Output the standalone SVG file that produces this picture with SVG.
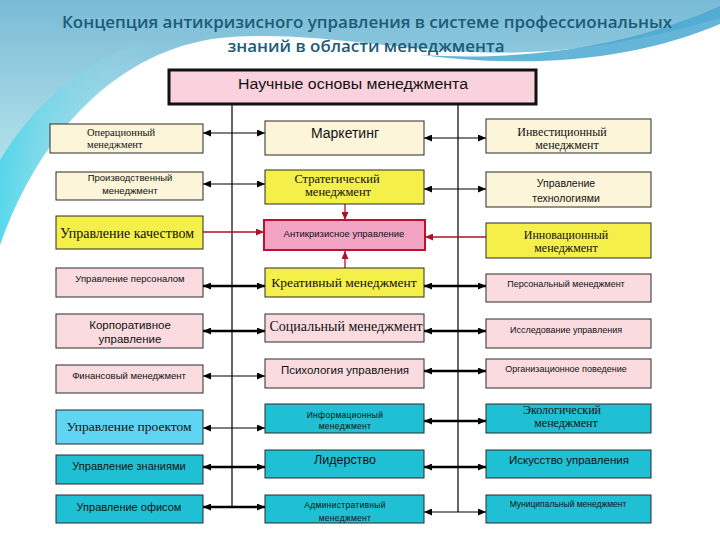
<svg xmlns="http://www.w3.org/2000/svg" width="720" height="540" viewBox="0 0 720 540">
<defs>
<linearGradient id="sky" x1="0" y1="0" x2="0" y2="1">
<stop offset="0" stop-color="#79BBD6"/>
<stop offset="0.5" stop-color="#A6D9E6"/>
<stop offset="1" stop-color="#C8EEF4"/>
</linearGradient>
<linearGradient id="leftc" x1="0" y1="0" x2="1" y2="0">
<stop offset="0" stop-color="#3FD3EA"/>
<stop offset="1" stop-color="#A9E3EE" stop-opacity="0"/>
</linearGradient>
<marker id="ab" viewBox="0 0 8 7" refX="8" refY="3.5" markerWidth="8" markerHeight="7" markerUnits="userSpaceOnUse" orient="auto-start-reverse">
<path d="M0,0 L8,3.5 L0,7 Z" fill="#000"/>
</marker>
<marker id="ar" viewBox="0 0 8 7" refX="8" refY="3.5" markerWidth="8" markerHeight="7" markerUnits="userSpaceOnUse" orient="auto-start-reverse">
<path d="M0,0 L8,3.5 L0,7 Z" fill="#B0102A"/>
</marker>
</defs>
<style>
.box{stroke:#2a2a2a;stroke-width:1}
.cream{fill:#FCF5DA}
.yel{fill:#F4F049}
.pink{fill:#FADCE0}
.lblue{fill:#5FD4F3}
.teal{fill:#1FC0D3}
.s{font-family:"Liberation Sans",Arial,sans-serif;fill:#111;text-anchor:middle}
.r{font-family:"Liberation Serif","DejaVu Serif","Times New Roman",serif;fill:#111;text-anchor:middle}
.ln{stroke:#000;fill:none}
.t{stroke-width:1.2}
.k{stroke-width:2.4}
.red{stroke:#B0102A;stroke-width:1.3;fill:none}
.title{font-family:"Open Sans","Noto Sans",sans-serif;font-weight:600;font-size:17px;fill:#1B5B78;text-anchor:middle}
</style>
<rect width="720" height="540" fill="#FFFFFF"/>
<path d="M0,0 H720 V18 C640,42 560,56 470,52 C380,48 300,30 220,38 C120,50 40,130 0,245 Z" fill="url(#sky)"/>
<path d="M0,245 C30,160 80,95 150,60 L150,40 C80,60 30,110 0,160 Z" fill="url(#leftc)" opacity="0.8"/>
<path d="M420,55 C540,62 640,42 720,6 V24 C640,58 540,70 420,55 Z" fill="#4AA8D2" opacity="0.85"/>
<text class="title" x="367" y="28" textLength="610" lengthAdjust="spacingAndGlyphs">Концепция антикризисного управления в системе профессиональных</text>
<text class="title" x="366" y="52" textLength="277" lengthAdjust="spacingAndGlyphs">знаний в области менеджмента</text>

<g id="connectors">
<line class="ln t" x1="232" y1="105" x2="232" y2="507"/>
<line class="ln t" x1="458" y1="105" x2="458" y2="512"/>
<line class="ln t" x1="203" y1="133" x2="265" y2="133" marker-start="url(#ab)" marker-end="url(#ab)"/>
<line class="ln t" x1="203" y1="184" x2="265" y2="184" marker-start="url(#ab)" marker-end="url(#ab)"/>
<line class="red" x1="203" y1="232" x2="264" y2="232" marker-end="url(#ar)"/>
<line class="ln k" x1="203" y1="286" x2="265" y2="286" marker-start="url(#ab)" marker-end="url(#ab)"/>
<line class="ln k" x1="203" y1="331" x2="265" y2="331" marker-start="url(#ab)" marker-end="url(#ab)"/>
<line class="ln t" x1="203" y1="376" x2="265" y2="376" marker-start="url(#ab)" marker-end="url(#ab)"/>
<line class="ln t" x1="203" y1="428" x2="265" y2="428" marker-start="url(#ab)" marker-end="url(#ab)"/>
<line class="ln k" x1="203" y1="467" x2="265" y2="467" marker-start="url(#ab)" marker-end="url(#ab)"/>
<line class="ln k" x1="203" y1="507" x2="265" y2="507" marker-start="url(#ab)" marker-end="url(#ab)"/>
<line class="ln t" x1="424" y1="138" x2="486" y2="138" marker-start="url(#ab)" marker-end="url(#ab)"/>
<line class="ln t" x1="424" y1="189" x2="486" y2="189" marker-start="url(#ab)" marker-end="url(#ab)"/>
<line class="red" x1="486" y1="237" x2="425" y2="237" marker-end="url(#ar)"/>
<line class="ln k" x1="424" y1="286" x2="486" y2="286" marker-start="url(#ab)" marker-end="url(#ab)"/>
<line class="ln k" x1="424" y1="331" x2="486" y2="331" marker-start="url(#ab)" marker-end="url(#ab)"/>
<line class="ln k" x1="424" y1="371" x2="486" y2="371" marker-start="url(#ab)" marker-end="url(#ab)"/>
<line class="ln k" x1="424" y1="421" x2="486" y2="421" marker-start="url(#ab)" marker-end="url(#ab)"/>
<line class="ln k" x1="424" y1="467" x2="486" y2="467" marker-start="url(#ab)" marker-end="url(#ab)"/>
<line class="ln t" x1="424" y1="512" x2="486" y2="512" marker-start="url(#ab)" marker-end="url(#ab)"/>
<line class="red" x1="345" y1="204" x2="345" y2="220" stroke-width="2" marker-end="url(#ar)"/>
<line class="red" x1="345" y1="268" x2="345" y2="251" stroke-width="2" marker-end="url(#ar)"/>
</g>

<g id="top">
<rect x="169" y="70" width="367" height="34" fill="#FAD2DE" stroke="#111" stroke-width="3"/>
<text class="s" x="353" y="89" font-size="14" textLength="230" lengthAdjust="spacingAndGlyphs">Научные основы менеджмента</text>
</g>

<g id="l1"><rect class="box cream" x="50" y="124" width="153" height="29"/>
<text class="r" x="87" y="136" font-size="10.5" style="text-anchor:start">Операционный</text>
<text class="r" x="87" y="148" font-size="10.5" style="text-anchor:start">менеджмент</text></g>
<g id="l2"><rect class="box cream" x="56" y="172" width="147" height="28"/>
<text class="s" x="130" y="181" font-size="9.5">Производственный</text>
<text class="s" x="130" y="194" font-size="9.5">менеджмент</text></g>
<g id="l3"><rect class="box yel" x="56" y="216" width="147" height="33"/>
<text class="r" x="127" y="238" font-size="14">Управление качеством</text></g>
<g id="l4"><rect class="box pink" x="56" y="268" width="147" height="29"/>
<text class="s" x="130" y="282" font-size="9.5">Управление персоналом</text></g>
<g id="l5"><rect class="box pink" x="56" y="314" width="147" height="34"/>
<text class="s" x="130" y="329" font-size="11.5">Корпоративное</text>
<text class="s" x="130" y="343" font-size="11.5">управление</text></g>
<g id="l6"><rect class="box pink" x="56" y="365" width="147" height="28"/>
<text class="s" x="129" y="379" font-size="9.5">Финансовый менеджмент</text></g>
<g id="l7"><rect class="box lblue" x="56" y="410" width="147" height="34"/>
<text class="r" x="129" y="431" font-size="13.5">Управление проектом</text></g>
<g id="l8"><rect class="box teal" x="56" y="455" width="147" height="29"/>
<text class="s" x="129" y="470" font-size="11">Управление знаниями</text></g>
<g id="l9"><rect class="box teal" x="56" y="495" width="147" height="28"/>
<text class="s" x="129" y="511" font-size="11">Управление офисом</text></g>

<g id="m1"><rect class="box cream" x="265" y="121" width="159" height="34"/>
<text class="s" x="345" y="138" font-size="14">Маркетинг</text></g>
<g id="m2"><rect class="box yel" x="265" y="170" width="159" height="34"/>
<text class="r" x="337" y="183" font-size="12.5">Стратегический</text>
<text class="r" x="338" y="196" font-size="12.5">менеджмент</text></g>
<g id="m3"><rect x="264" y="220" width="161" height="30" fill="#F3A3C4" stroke="#C0102E" stroke-width="2"/>
<text class="s" x="344" y="237" font-size="9.5">Антикризисное управление</text></g>
<g id="m4"><rect class="box yel" x="265" y="268" width="159" height="29"/>
<text class="r" x="344" y="287" font-size="13.5">Креативный менеджмент</text></g>
<g id="m5"><rect class="box pink" x="265" y="314" width="159" height="28"/>
<text class="r" x="346" y="331" font-size="14">Социальный менеджмент</text></g>
<g id="m6"><rect class="box pink" x="265" y="359" width="159" height="29"/>
<text class="s" x="345" y="374" font-size="11.5">Психология управления</text></g>
<g id="m7"><rect class="box teal" x="265" y="404" width="159" height="29"/>
<text class="s" x="345" y="418" font-size="8.5" letter-spacing="0.3">Информационный</text>
<text class="s" x="345" y="429" font-size="8.5" letter-spacing="0.3">менеджмент</text></g>
<g id="m8"><rect class="box teal" x="265" y="450" width="159" height="28"/>
<text class="s" x="345" y="464" font-size="12.5">Лидерство</text></g>
<g id="m9"><rect class="box teal" x="265" y="495" width="159" height="28"/>
<text class="s" x="345" y="508" font-size="8.5" letter-spacing="0.3">Административный</text>
<text class="s" x="345" y="521" font-size="8.5" letter-spacing="0.3">менеджмент</text></g>

<g id="r1"><rect class="box cream" x="486" y="119" width="165" height="34"/>
<text class="r" x="562" y="136" font-size="12">Инвестиционный</text>
<text class="r" x="567" y="149" font-size="12">менеджмент</text></g>
<g id="r2"><rect class="box cream" x="486" y="172" width="165" height="35"/>
<text class="s" x="566" y="187" font-size="10.5">Управление</text>
<text class="s" x="566" y="202" font-size="10.5">технологиями</text></g>
<g id="r3"><rect class="box yel" x="486" y="223" width="165" height="35"/>
<text class="r" x="566" y="239" font-size="12">Инновационный</text>
<text class="r" x="566" y="252" font-size="12">менеджмент</text></g>
<g id="r4"><rect class="box pink" x="486" y="274" width="165" height="28"/>
<text class="s" x="566" y="287" font-size="9">Персональный менеджмент</text></g>
<g id="r5"><rect class="box pink" x="486" y="319" width="165" height="29"/>
<text class="s" x="566" y="333" font-size="9">Исследование управления</text></g>
<g id="r6"><rect class="box pink" x="486" y="359" width="165" height="29"/>
<text class="s" x="566" y="372" font-size="9">Организационное поведение</text></g>
<g id="r7"><rect class="box teal" x="486" y="404" width="165" height="29"/>
<text class="r" x="562" y="414" font-size="12">Экологический</text>
<text class="r" x="566" y="427" font-size="12">менеджмент</text></g>
<g id="r8"><rect class="box teal" x="486" y="450" width="165" height="28"/>
<text class="s" x="569" y="464" font-size="11.5">Искусство управления</text></g>
<g id="r9"><rect class="box teal" x="486" y="495" width="165" height="28"/>
<text class="s" x="568" y="507" font-size="8.5">Муниципальный менеджмент</text></g>
</svg>
